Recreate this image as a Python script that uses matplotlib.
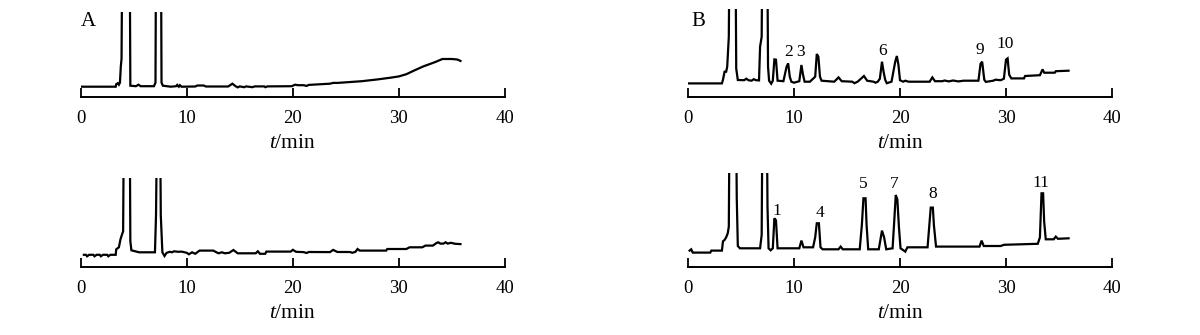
import matplotlib
matplotlib.use("Agg")
import matplotlib.pyplot as plt

plt.rcParams['font.family'] = ['Liberation Serif', 'DejaVu Serif']
plt.rcParams['mathtext.fontset'] = 'custom'
plt.rcParams['mathtext.it'] = 'Liberation Serif:italic'
plt.rcParams['mathtext.rm'] = 'Liberation Serif'

# ---- data: retention time (min) and detector signal (arbitrary units) ----
a1_t = [0, 3.3, 3.35, 3.5, 3.6, 3.7, 3.78, 3.85, 3.95, 4.6, 4.68, 5.2, 5.45, 5.65, 6.9, 7.05, 7.12, 7.55,
        7.62, 7.75, 8.5, 9.0, 9.1, 9.25, 9.35, 9.5, 10.8, 11.0, 11.6, 11.8, 13.9, 14.3, 14.6, 14.8, 15.0,
        15.4, 15.6, 16.2, 16.4, 17.3, 17.4, 17.6, 19.9, 20.2, 20.5, 21.0, 21.3, 21.5, 23.5, 23.8, 24.2,
        24.5, 26.5, 28.0, 29.2, 30.0, 30.7, 31.5, 32.3, 33.0, 33.5, 34.1, 35.0, 35.5, 35.8]
a1_y = [10, 10, 12.5, 13.5, 12, 14, 30, 38, 200, 200, 11, 10.5, 12, 10.5, 10.5, 14, 200, 200,
        14, 11, 10, 10.5, 11.8, 10, 11.5, 10, 10.2, 11.2, 11.2, 10.2, 10.2, 13, 10.5, 9.3, 10.3,
        9.5, 10.3, 9.5, 10.3, 10.3, 9.5, 10.3, 10.5, 12, 11.5, 11.5, 10.8, 11.8, 13, 13.8, 13.8,
        14, 15.5, 17.3, 19, 20.3, 22.5, 26.5, 30.3, 33, 35, 37.7, 37.7, 37.2, 35.8]

a2_t = [0.3, 0.5, 0.6, 0.8, 1.2, 1.3, 1.5, 1.8, 1.9, 2.1, 2.5, 2.6, 2.8, 3.3, 3.35, 3.6, 3.75, 3.9, 4.0,
        4.1, 4.6, 4.68, 4.78, 5.5, 7.0, 7.1, 7.25, 7.45, 7.55, 7.7, 7.9, 8.1, 8.4, 8.6, 8.8, 9.2, 9.5,
        10.0, 10.2, 10.5, 10.8, 11.2, 12.5, 12.8, 13.0, 13.3, 13.6, 14.0, 14.4, 14.8, 16.5, 16.7, 16.9,
        17.4, 17.5, 19.8, 20.0, 20.3, 21.0, 21.3, 21.5, 23.5, 23.8, 24.2, 25.4, 25.6, 25.9, 26.1, 26.3,
        28.8, 28.9, 30.7, 31.0, 32.2, 32.5, 33.2, 33.5, 33.7, 33.9, 34.2, 34.4, 34.6, 34.9, 35.3, 35.8]
a2_y = [12.5, 12.5, 11, 12.5, 12.5, 11, 12.5, 12.5, 11, 12.5, 12.5, 11, 12.5, 12.5, 18, 20, 28, 33, 36,
        200, 200, 26, 17, 15, 15, 52, 200, 200, 52, 15, 11.3, 14.5, 15.5, 15, 16, 15.5, 15.7,
        14.5, 13, 15, 13.5, 16.7, 16.7, 15, 14, 15, 14, 14.5, 17.3, 14, 14, 16, 13.5,
        13.5, 15.7, 15.7, 17.5, 15.5, 15.2, 14.3, 15.3, 15.2, 17.4, 15.3, 15.3, 14.5, 15.5, 18.3, 16.7,
        16.7, 18.3, 18.3, 20, 20, 21.7, 21.7, 24, 25, 23.7, 23.7, 25, 23.7, 24.5, 23.5, 23.2]

b1_t = [0.1, 3.2, 3.3, 3.45, 3.6, 3.7, 3.85, 3.95, 4.45, 4.55, 4.7, 5.3, 5.5, 5.7, 6.0, 6.2, 6.4, 6.7,
        6.8, 6.95, 7.05, 7.45, 7.55, 7.65, 7.85, 8.0, 8.15, 8.3, 8.45, 9.0, 9.3, 9.45, 9.6, 9.75, 10.0,
        10.5, 10.7, 10.85, 11.0, 11.5, 12.0, 12.15, 12.3, 12.45, 12.6, 13.8, 14.2, 14.5, 15.5, 15.7,
        16.0, 16.6, 16.9, 17.5, 17.7, 17.9, 18.1, 18.3, 18.45, 18.6, 18.75, 19.2, 19.55, 19.7, 19.85,
        20.0, 20.3, 20.5, 20.8, 22.8, 23.05, 23.3, 24.0, 24.2, 24.6, 25.0, 25.5, 26.0, 27.4, 27.6,
        27.75, 27.95, 28.1, 28.8, 29.0, 29.5, 29.8, 30.0, 30.15, 30.3, 30.5, 31.7, 31.8, 33.2, 33.45,
        33.6, 34.6, 34.7, 35.9]
b1_y = [13.3, 13.3, 17, 25, 25, 30, 60, 200, 200, 28, 16.7, 16.5, 18, 16.5, 16, 17.5, 16.5, 16.3,
        50, 60, 200, 200, 30, 16, 13, 16, 37.3, 37, 16, 15.5, 30, 33.3, 20, 15, 14,
        15.5, 31.7, 22, 15, 15, 20, 42.7, 40, 20, 16, 15, 19.3, 15.5, 15, 13.5,
        15, 20.7, 16, 15, 14, 15, 18, 35, 25, 17, 13.5, 15, 35, 40.7, 32,
        16.5, 15, 16, 15, 15, 19.3, 15.5, 15.5, 16.2, 15.3, 16.2, 15.3, 16, 16, 33,
        35, 17, 14.8, 16, 17, 16.5, 18, 37, 38.3, 22, 18.3, 18.3, 20.7, 21.5, 27.3,
        24, 24, 25.5, 26]

b2_t = [0.15, 0.3, 0.45, 2.1, 2.2, 3.2, 3.3, 3.45, 3.6, 3.75, 3.85, 3.95, 4.5, 4.6, 4.7, 4.9, 6.8,
        6.95, 7.05, 7.4, 7.5, 7.6, 7.8, 8.0, 8.15, 8.3, 8.45, 10.5, 10.7, 10.9, 11.8, 12.0, 12.15,
        12.35, 12.5, 12.7, 14.2, 14.4, 14.6, 16.2, 16.4, 16.55, 16.75, 16.85, 17.0, 18.0, 18.3, 18.5,
        18.7, 19.3, 19.45, 19.6, 19.75, 19.9, 20.05, 20.5, 20.7, 22.6, 22.9, 23.1, 23.2, 23.4, 27.5,
        27.7, 27.9, 29.5, 29.8, 33.0, 33.2, 33.35, 33.5, 33.6, 33.75, 34.5, 34.7, 34.9, 35.9]
b2_y = [16.7, 18, 14.7, 14.7, 16.7, 16.7, 26, 27.3, 30, 34, 40.7, 200, 200, 69, 21.3, 19, 19,
        32.3, 200, 200, 60.7, 19, 17, 19, 49, 47, 19, 19, 26.7, 20, 20, 30, 44,
        44, 20, 18, 18, 20.7, 18, 18, 42, 69, 69, 42, 18, 18, 36.7, 30,
        18, 19, 45, 72.3, 68, 40, 19, 15.7, 20, 20, 59.7, 59.7, 42, 20.7, 20.7,
        26.7, 21.3, 21.3, 22.5, 23.5, 30, 74, 74, 45.7, 28, 28, 30.7, 28.5, 29]

b1_labels = ['2', '3', '6', '9', '10']
b1_label_t = [9.45, 10.65, 18.35, 27.55, 29.9]
b1_label_y = [45, 45, 45.7, 46.7, 52.4]

b2_labels = ['1', '4', '5', '7', '8', '11']
b2_label_t = [8.37, 12.45, 16.55, 19.45, 23.05, 33.3]
b2_label_y = [56.6, 54.3, 83.3, 83.3, 73, 84]

xticks = [0, 10, 20, 30, 40]

W, H = 1200, 335
fig = plt.figure(figsize=(W / 100, H / 100), dpi=100)


def make_ax(x0_px, x40_px, axis_y_px, top_px):
    left = x0_px / W
    width = (x40_px - x0_px) / W
    bottom = 1 - axis_y_px / H
    height = top_px / H
    ax = fig.add_axes([left, bottom, width, height])
    ax.set_xlim(0, 40)
    ax.set_ylim(0, top_px)
    for s in ['left', 'right', 'top']:
        ax.spines[s].set_visible(False)
    ax.spines['bottom'].set_linewidth(1.4)
    ax.set_yticks([])
    ax.set_xticks(xticks)
    ax.set_xticklabels([str(v) for v in xticks])
    ax.tick_params(axis='x', direction='in', length=6.5, width=1.3, labelsize=13.5, pad=9.5, colors='black')
    ax.set_xlabel('$t$/min', fontsize=15.5, labelpad=5)
    ax.patch.set_alpha(0)
    return ax


ax_a1 = make_ax(80.7, 505, 96.7, 85)
ax_a2 = make_ax(80.7, 505, 267.3, 89)
ax_b1 = make_ax(688, 1112, 96.7, 87.3)
ax_b2 = make_ax(688, 1112, 267.3, 94.7)

lw = 1.6
ax_a1.plot(a1_t, a1_y, color='black', lw=lw, solid_joinstyle='miter')
ax_a2.plot(a2_t, a2_y, color='black', lw=lw, solid_joinstyle='miter')
ax_b1.plot(b1_t, b1_y, color='black', lw=lw, solid_joinstyle='miter')
ax_b2.plot(b2_t, b2_y, color='black', lw=lw, solid_joinstyle='miter')

for lab, t, y in zip(b1_labels, b1_label_t, b1_label_y):
    ax_b1.text(t, y, lab, ha='center', va='center', fontsize=12.5, clip_on=False)
for lab, t, y in zip(b2_labels, b2_label_t, b2_label_y):
    ax_b2.text(t, y, lab, ha='center', va='center', fontsize=12.5, clip_on=False)

fig.text(88.3 / W, 1 - 21.7 / H, 'A', ha='center', va='center', fontsize=15)
fig.text(698.3 / W, 1 - 21.7 / H, 'B', ha='center', va='center', fontsize=15)

fig.savefig('out.png', dpi=100, facecolor='white')
